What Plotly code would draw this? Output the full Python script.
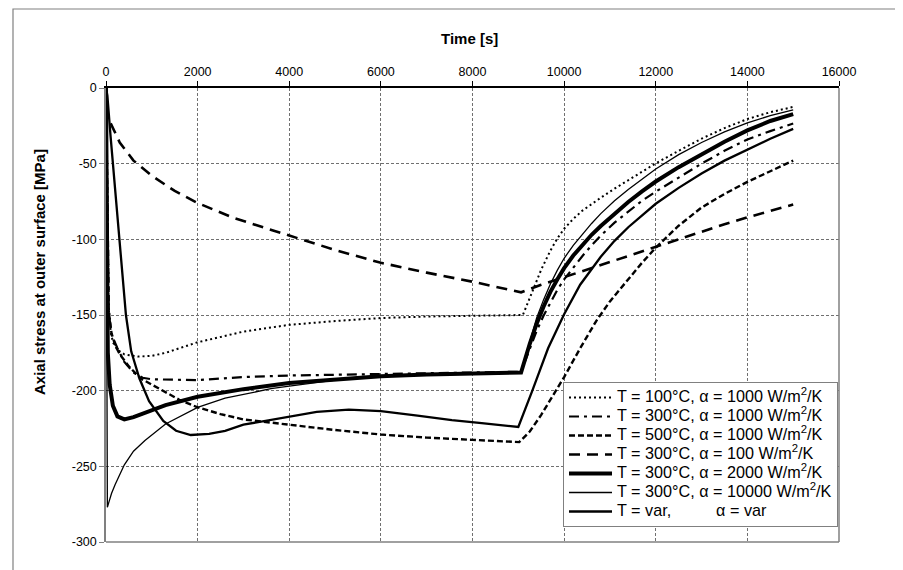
import plotly.graph_objects as go

# ---------------- data ----------------
t_T100_a1000 = [0, 20, 50, 100, 150, 250, 400, 700, 1000, 1300, 2000, 3000, 4000, 5000, 6000, 7000, 8000,
                9100, 9300, 9500, 9700, 9850, 10000, 10200, 10400, 10600, 10800, 11100, 11400, 11700, 12000,
                12500, 13000, 13500, 14000, 14500, 15000]
s_T100_a1000 = [0, -80, -140, -160, -168, -173, -176, -177.5, -177, -175, -168, -161, -156.5, -154, -152, -151, -150.3,
                -150, -135, -120, -107.5, -99.5, -93, -86.5, -81, -76.5, -72.5, -66.5, -60.8, -55.2, -49.8,
                -41.5, -33.5, -26.5, -20.5, -16, -12.5]

t_T300_a1000 = [0, 30, 60, 120, 250, 400, 600, 800, 1000, 2000, 3000, 4000, 6000, 8000,
                9060, 9250, 9400, 9550, 9700, 9850, 10000, 10200, 10400, 10600, 10800, 11100, 11400, 11700, 12000,
                12500, 13000, 13500, 14000, 14500, 15000]
s_T300_a1000 = [0, -100, -148, -163, -172, -181, -188, -191.5, -192.5, -193, -191, -190, -188.8, -188,
                -187.5, -172, -160.5, -150.5, -141.5, -133.5, -126.5, -118.5, -111, -104, -97.5, -89, -81.5, -74.5, -68.5,
                -59, -50, -41.5, -34, -28.5, -23.5]

t_T500_a1000 = [0, 30, 60, 120, 200, 300, 500, 760, 1000, 1600, 2000, 2500, 3000, 4000, 5000, 6000, 7000, 8000,
                9020, 9250, 9500, 9750, 10000, 10350, 10700, 11000, 11400, 11700, 12000, 12500, 13000, 13500, 14000, 14500, 15000]
s_T500_a1000 = [0, -100, -148, -162, -170, -176, -184, -192, -196, -206, -211, -215.5, -219, -222.5, -226, -229, -231, -232.5,
                -234, -227, -216, -203.5, -191, -172, -154, -141, -126, -115.5, -105.5, -91, -79, -70, -62, -55, -48]

t_T300_a100 = [0, 20, 50, 100, 300, 600, 1000, 1500, 2000, 2800, 3600, 4000, 5000, 6000, 7000, 8000,
               9060, 9500, 10000, 10500, 11000, 11500, 12000, 12500, 13000, 13500, 14000, 14500, 15000]
s_T300_a100 = [0, -12, -20, -23, -36, -48, -58, -68, -76, -86, -94, -97.5, -107, -115.5, -122, -128,
               -135, -130, -125, -120, -115, -110.5, -105, -100, -95, -90, -85.5, -81, -77]

t_T300_a2000 = [0, 10, 20, 40, 80, 150, 250, 400, 600, 900, 1300, 2000, 3000, 4000, 5000, 6000, 7000, 8000,
                9060, 9250, 9400, 9550, 9700, 9850, 10000, 10200, 10400, 10600, 10800, 11100, 11400, 11700, 12000,
                12500, 13000, 13500, 14000, 14500, 15000]
s_T300_a2000 = [0, -60, -120, -175, -196, -210, -217, -219, -217.5, -214, -209.5, -204, -199, -195, -192.5, -190.5, -189.3, -188.5,
                -188, -169, -155.7, -144.5, -134.7, -126.5, -119, -110.7, -103.4, -97, -91.2, -83, -75.3, -68.3, -61.8,
                -52.3, -43.8, -35.5, -28, -21.8, -17.3]

t_T300_a10000 = [0, 15, 30, 60, 120, 200, 400, 600, 850, 1300, 2000, 2600, 3600, 4000, 5000, 6000, 7000, 8000,
                 9060, 9250, 9400, 9550, 9700, 9850, 10000, 10200, 10400, 10600, 10800, 11100, 11400, 11700, 12000,
                 12500, 13000, 13500, 14000, 14500, 15000]
s_T300_a10000 = [0, -200, -277, -274, -268, -262, -249, -240, -233, -222, -211, -205, -198.7, -197, -193, -190.5, -189.3, -188.5,
                 -188, -167, -152, -140, -129.5, -120.5, -112.5, -104, -96.5, -89.5, -83, -74.5, -67, -60, -53.5,
                 -44, -36, -29, -23, -18.3, -14.5]

t_var = [0, 30, 100, 200, 300, 435, 550, 730, 940, 1250, 1530, 1850, 2250, 2600, 3000, 4000, 4600, 5300, 6000, 6800, 7550, 8200,
         9000, 9300, 9650, 10000, 10350, 10800, 11100, 11400, 11700, 12000, 12500, 13000, 13500, 14000, 14500, 15000]
s_var = [0, -5, -32, -68, -104, -150, -174, -192, -207, -220, -226.5, -229.3, -228.5, -226.5, -222.5, -217, -214, -212.5, -213.5, -216.5, -219.5, -221.5,
         -224, -200.5, -172, -149.5, -130, -111.5, -101, -92, -84, -76.5, -66, -56.5, -48, -40.5, -33.5, -27]

x_ticks = [0, 2000, 4000, 6000, 8000, 10000, 12000, 14000, 16000]
y_ticks = [0, -50, -100, -150, -200, -250, -300]

LEG_PX = 16.2
def leg(s):
    return '<span style="font-size:%gpx">%s</span>' % (LEG_PX, s)

names = [
    leg("T = 100°C, α = 1000 W/m<sup>2</sup>/K"),
    leg("T = 300°C, α = 1000 W/m<sup>2</sup>/K"),
    leg("T = 500°C, α = 1000 W/m<sup>2</sup>/K"),
    leg("T = 300°C, α = 100 W/m<sup>2</sup>/K"),
    leg("T = 300°C, α = 2000 W/m<sup>2</sup>/K"),
    leg("T = 300°C, α = 10000 W/m<sup>2</sup>/K"),
    leg("T = var," + "\u00a0" * 10 + "α = var"),
]

series = [
    (t_T100_a1000, s_T100_a1000, dict(width=2, dash="2px,3px")),
    (t_T300_a1000, s_T300_a1000, dict(width=2.2, dash="10px,5px,3px,5px")),
    (t_T500_a1000, s_T500_a1000, dict(width=2.4, dash="6px,3px")),
    (t_T300_a100, s_T300_a100, dict(width=2.6, dash="11px,7px")),
    (t_T300_a2000, s_T300_a2000, dict(width=4, dash="solid")),
    (t_T300_a10000, s_T300_a10000, dict(width=1.3, dash="solid")),
    (t_var, s_var, dict(width=2.3, dash="solid")),
]

FONT = "Liberation Sans, Arial, sans-serif"

fig = go.Figure()
for (tx, sy, ln), nm in zip(series, names):
    fig.add_trace(go.Scatter(x=tx, y=sy, mode="lines", name=nm,
                             line=dict(color="black", **ln)))

# plot area pixel geometry
L, R, T, B = 98, 831, 80, 534
W, H = 903, 570
def px(xp):
    return (xp - L) / (R - L)
def py(yp):
    return (B - yp) / (B - T)

fig.update_layout(
    width=W, height=H,
    margin=dict(l=L, r=W - R, t=T, b=H - B),
    paper_bgcolor="white", plot_bgcolor="white",
    font=dict(family=FONT, size=13, color="black"),
    showlegend=True,
    legend=dict(x=px(555), y=py(519), xanchor="left", yanchor="bottom",
                bgcolor="white", bordercolor="#808080", borderwidth=1,
                font=dict(family=FONT, size=11.5, color="black"),
                itemwidth=43, tracegroupgap=0),
    xaxis=dict(range=[0, 16000], side="top", tickvals=x_ticks, ticktext=[str(v) for v in x_ticks],
               showline=True, linecolor="black", linewidth=1.5,
               ticks="outside", ticklen=5, tickcolor="black", tickwidth=1,
               showgrid=True, gridcolor="#707070", gridwidth=1, griddash="3px,2px",
               zeroline=False, tickfont=dict(size=12.5, family=FONT, color="black")),
    yaxis=dict(range=[-300, 0], tickvals=y_ticks, ticktext=[str(v) for v in y_ticks],
               showline=True, linecolor="#808080", linewidth=1.5,
               ticks="outside", ticklen=5, tickcolor="#808080", tickwidth=1,
               showgrid=True, gridcolor="#707070", gridwidth=1, griddash="3px,2px",
               zeroline=False, tickfont=dict(size=12.5, family=FONT, color="black")),
    annotations=[
        dict(text="<b>Time [s]</b>", xref="paper", yref="paper", x=px(461), y=py(31),
             showarrow=False, font=dict(size=15, family=FONT, color="black"),
             xanchor="center", yanchor="middle"),
        dict(text="<b>Axial stress at outer surface [MPa]</b>", xref="paper", yref="paper",
             x=px(31), y=py(264), textangle=-90, showarrow=False,
             font=dict(size=15, family=FONT, color="black"), xanchor="center", yanchor="middle"),
    ],
    shapes=[
        # plot-area frame: right and bottom edges
        dict(type="line", xref="paper", yref="paper", x0=1, x1=1, y0=0, y1=1,
             line=dict(color="#808080", width=1.5)),
        dict(type="line", xref="paper", yref="paper", x0=0, x1=1, y0=0, y1=0,
             line=dict(color="#808080", width=1.5)),
        # outer chart border
        dict(type="rect", xref="paper", yref="paper", x0=px(5), x1=px(897), y0=py(568), y1=py(1),
             line=dict(color="#808080", width=1.2), fillcolor="rgba(0,0,0,0)", layer="below"),
    ],
)

fig.write_html("out.html")
